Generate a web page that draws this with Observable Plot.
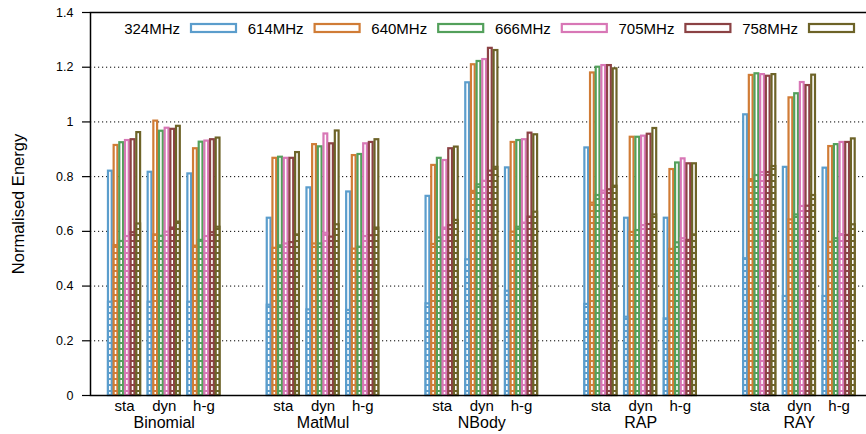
<!DOCTYPE html>
<html><head><meta charset="utf-8">
<style>
body{margin:0;background:#fff;overflow:hidden;}
#chart{width:866px;height:434px;position:relative;overflow:hidden;}
</style>
<script src="https://cdn.jsdelivr.net/npm/d3@7"></script>
<script src="https://cdn.jsdelivr.net/npm/@observablehq/plot@0.6"></script>
</head><body>
<svg width="0" height="0" style="position:absolute"><defs id="pats"></defs></svg>
<div id="chart"></div>
<script>
const benchmarks = ["Binomial", "MatMul", "NBody", "RAP", "RAY"];
const modes = ["sta", "dyn", "h-g"];
const freqs = ["324MHz", "614MHz", "640MHz", "666MHz", "705MHz", "758MHz"];
const colors = ["#5b9dcc", "#d07c36", "#53a05b", "#d877b6", "#8b4244", "#6d6328"];
const yTicks = [0, 0.2, 0.4, 0.6, 0.8, 1, 1.2, 1.4];
const yTickLabels = ["0", "0.2", "0.4", "0.6", "0.8", "1", "1.2", "1.4"];
const gridTicks = [0.2, 0.4, 0.6, 0.8, 1, 1.2];

// total normalised energy: [sta, dyn, h-g] x 6 frequencies
const binomialTotal = [[0.820, 0.914, 0.924, 0.932, 0.935, 0.961],
                       [0.816, 1.003, 0.966, 0.977, 0.973, 0.984],
                       [0.810, 0.902, 0.926, 0.930, 0.935, 0.941]];
const binomialBase  = [[0.341, 0.548, 0.563, 0.581, 0.595, 0.627],
                       [0.341, 0.587, 0.582, 0.597, 0.612, 0.634],
                       [0.341, 0.546, 0.567, 0.581, 0.595, 0.615]];
const matmulTotal   = [[0.648, 0.867, 0.871, 0.867, 0.867, 0.888],
                       [0.759, 0.917, 0.909, 0.956, 0.920, 0.967],
                       [0.744, 0.877, 0.881, 0.920, 0.925, 0.935]];
const matmulBase    = [[0.330, 0.538, 0.547, 0.554, 0.559, 0.587],
                       [0.313, 0.554, 0.554, 0.593, 0.579, 0.624],
                       [0.311, 0.535, 0.542, 0.581, 0.584, 0.612]];
const nbodyTotal    = [[0.728, 0.841, 0.867, 0.859, 0.902, 0.908],
                       [1.143, 1.209, 1.221, 1.228, 1.269, 1.261],
                       [0.832, 0.925, 0.932, 0.935, 0.959, 0.953]];
const nbodyBase     = [[0.335, 0.552, 0.576, 0.612, 0.621, 0.640],
                       [0.496, 0.746, 0.770, 0.783, 0.820, 0.834],
                       [0.381, 0.597, 0.615, 0.630, 0.652, 0.670]];
const rapTotal      = [[0.905, 1.179, 1.200, 1.206, 1.206, 1.194],
                       [0.648, 0.944, 0.944, 0.948, 0.955, 0.976],
                       [0.648, 0.826, 0.850, 0.865, 0.847, 0.847]];
const rapBase       = [[0.333, 0.703, 0.731, 0.747, 0.752, 0.765],
                       [0.286, 0.596, 0.603, 0.621, 0.625, 0.660],
                       [0.280, 0.534, 0.558, 0.573, 0.567, 0.587]];
const rayTotal      = [[1.026, 1.170, 1.176, 1.173, 1.167, 1.173],
                       [0.834, 1.088, 1.103, 1.144, 1.133, 1.171],
                       [0.831, 0.910, 0.917, 0.925, 0.925, 0.938]];
const rayBase       = [[0.500, 0.789, 0.804, 0.815, 0.815, 0.837],
                       [0.362, 0.642, 0.660, 0.691, 0.692, 0.731],
                       [0.362, 0.560, 0.573, 0.588, 0.585, 0.624]];

const totals = [binomialTotal, matmulTotal, nbodyTotal, rapTotal, rayTotal];
const bases = [binomialBase, matmulBase, nbodyBase, rapBase, rayBase];

// layout in slot units (one slot per bar)
const lead = 3, groupSlots = freqs.length + 1, benchSlots = 28;
const rows = [];
const modeRows = [];
const benchRows = [];
benchmarks.forEach((b, bi) => {
  modes.forEach((m, mi) => {
    const start = bi * benchSlots + lead + mi * groupSlots;
    modeRows.push({label: m, x: start + freqs.length / 2});
    freqs.forEach((f, fi) => {
      rows.push({bench: b, mode: m, freq: f, fi, x1: start + fi, x2: start + fi + 1,
                 total: totals[bi][mi][fi], base: bases[bi][mi][fi]});
    });
  });
  benchRows.push({label: b, x: bi * benchSlots + lead + groupSlots + freqs.length / 2});
});

const defs = d3.select("#pats");
colors.forEach((c, i) => {
  const p = defs.append("pattern").attr("id", "hatch" + i)
    .attr("patternUnits", "userSpaceOnUse").attr("width", 6).attr("height", 6);
  p.append("rect").attr("width", 6).attr("height", 6).attr("fill", "white");
  p.append("rect").attr("width", 6).attr("height", 2).attr("fill", c);
});

const font = "'Liberation Sans', Arial, Helvetica, sans-serif";
const barOpts = {x1: "x1", x2: "x2", strokeWidth: 2.2, insetLeft: 0.95, insetRight: 0.95};

const chart = Plot.plot({
  width: 866, height: 434,
  marginLeft: 90, marginRight: -18, marginTop: 12, marginBottom: 39,
  style: {fontFamily: font, background: "white", color: "black"},
  x: {domain: [0, benchSlots * benchmarks.length], axis: null},
  y: {domain: [0, 1.4], axis: null},
  color: {domain: freqs, range: colors},
  marks: [
    Plot.gridY(gridTicks, {stroke: "black", strokeOpacity: 1, strokeDasharray: "1.2,2.8", strokeWidth: 1}),
    Plot.rectY(rows, {...barOpts, y: "total", fill: "white", stroke: "freq"}),
    ...freqs.map((f, i) => Plot.rectY(rows.filter(d => d.freq === f),
      {...barOpts, y: "base", fill: `url(#hatch${i})`, stroke: colors[i]})),
    Plot.axisY({ticks: yTicks, tickFormat: d => yTickLabels[yTicks.indexOf(d)], tickSize: 8, tickPadding: 9,
                fontSize: 12.5, label: null, strokeWidth: 1.2}),
    Plot.frame({strokeWidth: 1.5}),
    Plot.text(modeRows, {x: "x", text: "label", frameAnchor: "bottom", dy: 15, fontSize: 15}),
    Plot.text(benchRows, {x: "x", text: "label", frameAnchor: "bottom", dy: 32, fontSize: 16}),
    Plot.text(["Normalised Energy"], {frameAnchor: "left", textAnchor: "middle", dx: -72, rotate: -90, fontSize: 16.5})
  ]
});

const svg = d3.select(chart);
const lg = svg.append("g").attr("font-family", font).attr("font-size", 15);
freqs.forEach((f, i) => {
  const x0 = 190 + i * 123.6;
  lg.append("text").attr("x", x0 - 10).attr("y", 28).attr("text-anchor", "end")
    .attr("dominant-baseline", "central").attr("fill", "black").text(f);
  lg.append("rect").attr("x", x0 + 1).attr("y", 24).attr("width", 45).attr("height", 8)
    .attr("fill", "white").attr("stroke", colors[i]).attr("stroke-width", 2.2);
});

document.getElementById("chart").appendChild(chart);
</script>
</body></html>
